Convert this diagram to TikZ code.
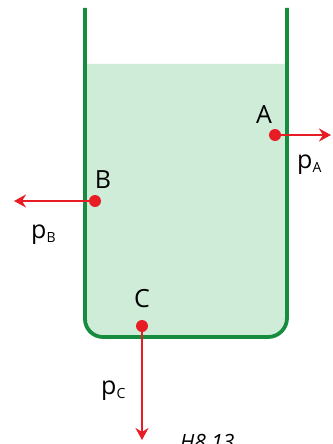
\documentclass[tikz,border=0pt]{standalone}
\usepackage{fontspec}
\setmainfont{Open Sans}
\usetikzlibrary{arrows.meta}
\definecolor{wallgreen}{RGB}{22,140,62}
\definecolor{water}{RGB}{206,236,216}
\definecolor{arrred}{RGB}{232,28,36}
\tikzset{
  wall/.style={draw=wallgreen, line width=3.8pt, line join=round},
  dot/.style={circle, fill=arrred, inner sep=0pt, minimum size=12pt},
  force/.style={draw=arrred, line width=2.4pt, -{Stealth[length=12pt,width=13pt,inset=4pt]}},
  lbl/.style={font=\fontsize{25}{25}\selectfont, text=black, inner sep=0pt},
}
\newcommand{\subl}[1]{\raisebox{-4pt}{\fontsize{14}{14}\selectfont #1}}
\begin{document}
\begin{tikzpicture}[x=1pt,y=-1pt]
\useasboundingbox (0,0) rectangle (332,444);
\clip (0,0) rectangle (332,444);
% water
\fill[water] (87,64) -- (285,64) -- (285,318) arc[start angle=0,end angle=90,radius=17] -- (105,337) arc[start angle=90,end angle=180,radius=18] -- cycle;
% container
\draw[wall] (85,8) -- (85,319) arc[start angle=180,end angle=90,radius=18] -- (268,337) arc[start angle=90,end angle=0,radius=19] -- (287,8);
% points
\node[dot] (A) at (275,135) {};
\node[dot] (B) at (95,201) {};
\node[dot] (C) at (142,326) {};
\coordinate (Aend) at (331,135);
\coordinate (Bend) at (14,201);
\coordinate (Cend) at (142,440);
\draw[force] (A.center) -- (Aend);
\draw[force] (B.center) -- (Bend);
\draw[force] (C.center) -- (Cend);
% labels
\node[lbl] (lA) at (264,115) {A};
\node[lbl] (lB) at (103,180) {B};
\node[lbl] (lC) at (142,299) {C};
\node[lbl, anchor=base west] (pA) at (297,168) {p\subl{A}};
\node[lbl, anchor=base west] (pB) at (31,238) {p\subl{B}};
\node[lbl, anchor=base west] (pC) at (101,394) {p\subl{C}};
\node[lbl, anchor=base west, font=\itshape\fontsize{21}{21}\selectfont] (cap) at (180,449) {H8.13};
\end{tikzpicture}
\end{document}
